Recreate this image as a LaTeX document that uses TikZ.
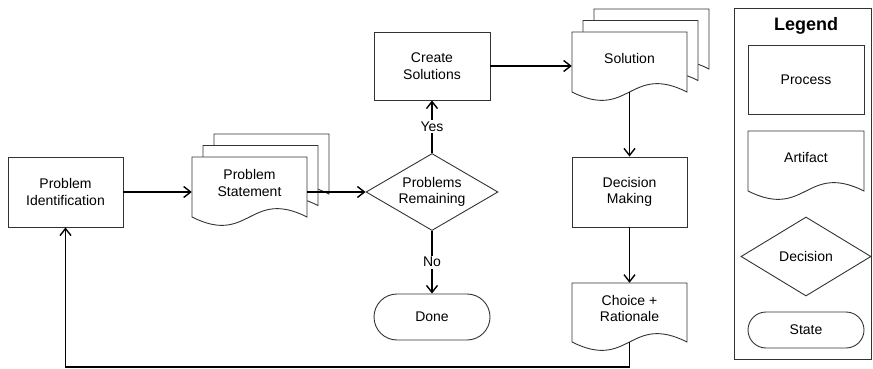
\documentclass[tikz,border=0pt]{standalone}
\usepackage{fontspec}
\setmainfont{Liberation Sans}
\usetikzlibrary{arrows.meta,shapes.geometric,calc}

\tikzset{
  shapeline/.style={draw=black!80, line width=0.9pt},
  lbl/.style={font=\fontsize{14}{16.6}\selectfont, align=center},
  process/.style={rectangle, shapeline, fill=white, lbl, inner sep=0pt},
  artifact/.style={rectangle, draw=none, inner sep=0pt,
    label={[lbl, yshift=4pt]center:#1}},
  decision/.style={diamond, shapeline, fill=white, inner sep=0pt,
    label={[lbl]center:#1}},
  statebox/.style={rectangle, rounded corners=18pt, shapeline, fill=white, lbl, inner sep=0pt},
  conn/.style={draw=black, line width=1.9pt,
    -{Straight Barb[length=7pt, width=11pt, line width=1.4pt]}},
  tag/.style={lbl, fill=white, inner sep=1.5pt},
}

% one document sheet: centre x, centre y, width, height of the straight sides
\newcommand\docsheet[4]{%
  \draw[shapeline, fill=white] ({#1-#3/2},{#2-#4/2}) -- ({#1-#3/2},{#2+#4/2})
    .. controls ({#1},{#2+#4/2+29}) and ({#1},{#2+#4/2-29}) .. ({#1+#3/2},{#2+#4/2})
    -- ({#1+#3/2},{#2-#4/2}) -- cycle;}
% a pile of three sheets, the front one centred on the given point
\newcommand\docpile[4]{%
  \docsheet{#1+22}{#2-23}{#3}{#4}%
  \docsheet{#1+11}{#2-11.5}{#3}{#4}%
  \docsheet{#1}{#2}{#3}{#4}}

\begin{document}
\begin{tikzpicture}[x=1pt, y=-1pt]
\useasboundingbox (0,0) rectangle (873,369);

% document outlines
\docpile{249.5}{187}{115}{60}
\docpile{629.5}{62}{115}{60}
\docsheet{629.5}{312.5}{115}{59}
\docsheet{806}{161}{116}{60}

% flow
\node[process, minimum width=115pt, minimum height=70pt] (pi) at (65.5,192) {Problem\\Identification};
\node[artifact={Problem\\Statement}, minimum width=115pt, minimum height=60pt] (ps) at (249.5,187) {};
\node[decision={Problems\\Remaining}, minimum width=132pt, minimum height=77pt] (dec) at (432,192) {};
\node[process, minimum width=116pt, minimum height=68pt] (cs) at (432,66) {Create\\Solutions};
\node[artifact={Solution}, minimum width=115pt, minimum height=60pt] (sol) at (629.5,62) {};
\node[process, minimum width=115pt, minimum height=70pt] (dm) at (629.5,192) {Decision\\Making};
\node[artifact={Choice +\\Rationale}, minimum width=115pt, minimum height=59pt] (cr) at (629.5,312.5) {};
\node[statebox, rounded corners=23pt, minimum width=116pt, minimum height=46pt] (done) at (432,317) {Done};

\draw[conn] (pi.east) -- (pi.east -| ps.west);
\draw[conn] (ps.east |- dec.west) -- (dec.west);
\draw[conn] (dec.north) -- node[tag] {Yes} (cs.south);
\draw[conn] (dec.south) -- node[tag] {No} (done.north);
\draw[conn] (cs.east) -- (cs.east -| sol.west);
\draw[conn] (sol.south) -- (dm.north);
\draw[conn] (dm.south) -- (cr.north);
\draw[conn] (cr.south) -- ++(0,25) -| (pi.south);

% legend
\node[rectangle, shapeline, minimum width=137pt, minimum height=351pt, inner sep=0pt] (lg) at (803,183.5) {};
\node[font=\fontsize{18}{21}\selectfont\bfseries] (lgt) at (806,26) {Legend};
\node[process, minimum width=116pt, minimum height=69pt] (lp) at (806,79.5) {Process};
\node[artifact={Artifact}, minimum width=116pt, minimum height=60pt] (la) at (806,161) {};
\node[decision={Decision}, minimum width=130pt, minimum height=79pt] (ld) at (806,256.5) {};
\node[statebox, minimum width=116pt, minimum height=36pt] (ls) at (806,330) {State};
\end{tikzpicture}
\end{document}
